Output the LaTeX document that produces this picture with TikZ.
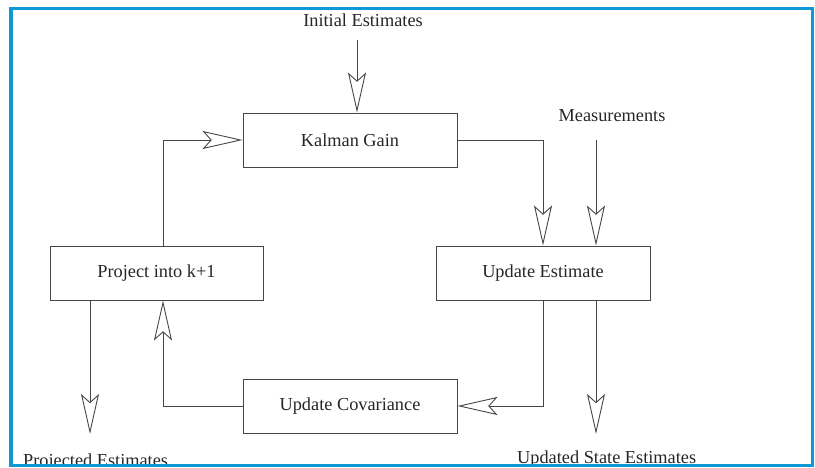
\documentclass[tikz,border=0pt]{standalone}
\usepackage{fontspec}
\setmainfont{Liberation Serif}
\usetikzlibrary{arrows.meta}
\definecolor{borderblue}{RGB}{14,152,214}
\definecolor{linegray}{RGB}{70,70,70}
\begin{document}
\begin{tikzpicture}[x=1pt,y=-1pt,
  every node/.style={font=\fontsize{18.3}{22}\selectfont, text=black!85},
  procbox/.style={draw=linegray, line width=0.9pt, fill=white, minimum width=214pt, minimum height=54pt, inner sep=0pt},
  lbl/.style={inner sep=0pt},
  conn/.style={draw=linegray, line width=0.9pt},
  arr/.style={conn, -{Stealth[length=40pt, width=18pt, inset=8pt, fill=white, line width=0.9pt]}}
]
\useasboundingbox (0,0) rectangle (815,468);

% process boxes
\node[procbox] (kg) at (350,140) {Kalman Gain};
\node[procbox, minimum width=213pt] (pk) at (156.5,273) {Project into k+1};
\node[procbox] (ue) at (543,273) {Update Estimate};
\node[procbox] (uc) at (350,406) {Update Covariance};

% labels (clipped by the frame at the bottom)
\begin{scope}
  \clip (0,0) rectangle (815,465);
  \node[lbl, anchor=base] (ie) at (363,27) {Initial Estimates};
  \node[lbl, anchor=base] (ms) at (612,122) {Measurements};
  \node[lbl, anchor=base west] (use) at (517,463) {Updated State Estimates};
  \node[lbl, anchor=base west] (pe) at (23,466) {Projected Estimates};
\end{scope}

% helper coordinates
\coordinate (ieS) at (357,40);
\coordinate (msS) at (596,140);
\coordinate (usE) at (596,434);
\coordinate (peE) at (90,434);
\coordinate (lx) at (163,0);

% connectors
\draw[arr] (ieS) -- (ieS |- kg.north);
\draw[arr] (msS) -- (msS |- ue.north);
\draw[arr] (kg.east) -| (ue.north);
\draw[arr] (ue.south) |- (uc.east);
\draw[arr] (usE |- ue.south) -- (usE);
\draw[arr] (uc.west) -| (lx |- pk.south);
\draw[arr] (lx |- pk.north) |- (kg.west);
\draw[arr] (peE |- pk.south) -- (peE);

% frame
\draw[borderblue, line width=3.5pt] (11,8.5) rectangle (812.5,465.5);
\end{tikzpicture}
\end{document}
